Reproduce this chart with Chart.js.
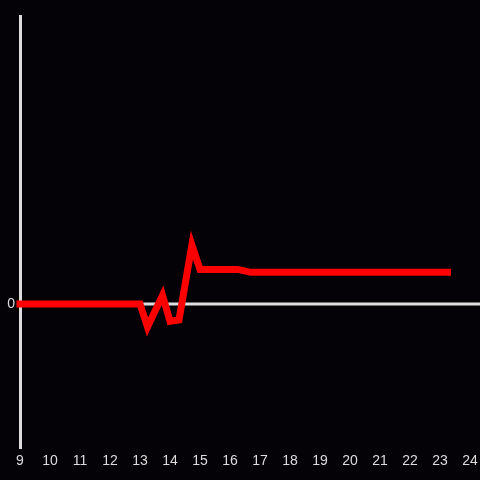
<!DOCTYPE html>
<html lang="en">
<head>
    <meta charset="UTF-8">
    <title>Line chart</title>
    <script src="https://cdn.jsdelivr.net/npm/chart.js"></script>
    <style>
        html, body { margin: 0; padding: 0; background: #040206; }
        #wrap { width: 480px; height: 480px; position: relative; }
    </style>
</head>
<body>
    <div id="wrap"><canvas id="chart" width="480" height="480"></canvas></div>

    <script>
        // values
        const xValues = [9, 13, 13.25, 13.75, 14, 14.3, 14.73, 15, 16.25, 16.7, 23.25];
        const yValues = [0, 0, -0.16, 0.06, -0.12, -0.11, 0.41, 0.24, 0.24, 0.22, 0.22];
        const xTickMin = 9;
        const xTickMax = 24;
        const yMin = -1;
        const yMax = 2;

        const points = xValues.map((x, i) => ({ x: x, y: yValues[i] }));

        // zero line that runs to the right edge of the canvas
        const zeroLine = {
            id: "zeroLine",
            beforeDatasetsDraw(chart) {
                const ctx = chart.ctx;
                const y = chart.scales.y.getPixelForValue(0);
                ctx.save();
                ctx.strokeStyle = "#dddddd";
                ctx.lineWidth = 3;
                ctx.beginPath();
                ctx.moveTo(chart.chartArea.left, y);
                ctx.lineTo(chart.width, y);
                ctx.stroke();
                ctx.restore();
            }
        };

        new Chart(document.getElementById("chart"), {
            type: "line",
            data: {
                datasets: [{
                    data: points,
                    borderColor: "#ff0000",
                    borderWidth: 7,
                    borderCapStyle: "square",
                    pointRadius: 0,
                    tension: 0,
                    clip: false
                }]
            },
            options: {
                responsive: false,
                animation: false,
                layout: { padding: { top: 16, right: 10, left: 0, bottom: 0 } },
                plugins: { legend: { display: false }, tooltip: { enabled: false } },
                scales: {
                    x: {
                        type: "linear",
                        min: xTickMin,
                        max: xTickMax,
                        grid: { display: false, drawTicks: false },
                        border: { display: false },
                        ticks: {
                            stepSize: 1,
                            color: "#dddddd",
                            padding: 5,
                            maxRotation: 0,
                            font: { family: "Liberation Sans", size: 14 }
                        },
                        afterFit(scale) {
                            scale.height = 32;
                            scale.paddingLeft = 0;
                            scale.paddingRight = 0;
                        }
                    },
                    y: {
                        min: yMin,
                        max: yMax,
                        grid: { display: false, drawTicks: false },
                        border: { display: true, color: "#dddddd", width: 3 },
                        ticks: {
                            color: "#dddddd",
                            padding: 5,
                            font: { family: "Liberation Sans", size: 14 }
                        },
                        afterBuildTicks(scale) { scale.ticks = [{ value: 0 }]; },
                        afterFit(scale) {
                            scale.width = 20;
                            scale.paddingTop = 0;
                            scale.paddingBottom = 0;
                        }
                    }
                }
            },
            plugins: [zeroLine]
        });
    </script>
</body>
</html>
